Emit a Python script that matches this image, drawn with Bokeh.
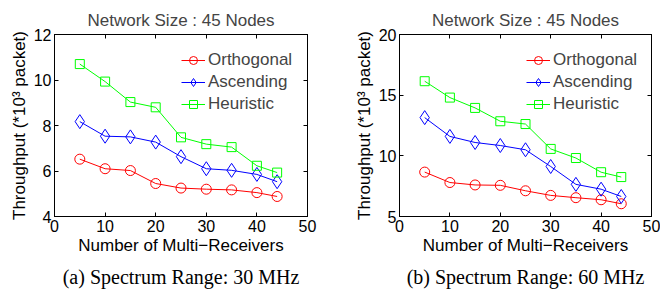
from bokeh.plotting import figure
from bokeh.models import (LinearAxis, Legend, LegendItem, Title, Range1d,
                          FixedTicker, CustomJSTickFormatter)
from bokeh.layouts import row
from bokeh.embed import file_html
from bokeh.resources import INLINE

# ---- data ----
receivers = [5, 10, 15, 20, 25, 30, 35, 40, 44]
x_ticks = [0, 10, 20, 30, 40, 50]

# (a) Spectrum range 30 MHz
orth_30 = [6.52, 6.10, 6.02, 5.45, 5.25, 5.20, 5.17, 5.05, 4.88]
asc_30 = [8.17, 7.53, 7.50, 7.27, 6.63, 6.10, 6.03, 5.85, 5.53]
heur_30 = [10.70, 9.93, 9.03, 8.80, 7.48, 7.18, 7.05, 6.23, 5.93]
y_ticks_30 = [4, 6, 8, 10, 12]

# (b) Spectrum range 60 MHz
orth_60 = [8.66, 7.80, 7.60, 7.57, 7.12, 6.74, 6.55, 6.38, 6.05]
asc_60 = [13.15, 11.60, 11.10, 10.85, 10.50, 9.12, 7.65, 7.25, 6.65]
heur_60 = [16.15, 14.80, 13.95, 12.85, 12.62, 10.57, 9.82, 8.65, 8.25]
y_ticks_60 = [5, 10, 15, 20]

series_names = ["Orthogonal", "Ascending", "Heuristic"]
series_colors = ["#ff0000", "#0000ff", "#00ff00"]
series_markers = ["circle", "diamond", "square"]
marker_sizes = [10, 14, 9]

title_text = "Network Size : 45 Nodes"
x_label = "Number of Multi\u2212Receivers"
y_label = "Throughput (*10\u00b3 packet)"

SANS = "Liberation Sans"
SERIF = "Liberation Serif"


def make(series, y_rng, y_ticks, caption, width, b_left, b_right):
    p = figure(width=width, height=297, output_backend="svg", toolbar_location=None,
               x_range=Range1d(0, 50), y_range=Range1d(*y_rng),
               min_border_left=b_left, min_border_right=b_right,
               min_border_top=34, min_border_bottom=81,
               x_axis_type=None, y_axis_type=None)
    p.title.text = title_text
    p.title.align = "center"
    p.title.text_font = SANS
    p.title.text_font_size = "17px"
    p.title.text_font_style = "normal"
    p.title.standoff = 10
    p.xgrid.visible = False
    p.ygrid.visible = False
    p.outline_line_color = "black"
    p.outline_line_width = 1
    p.background_fill_color = "white"
    p.border_fill_color = "white"

    blank = CustomJSTickFormatter(code="return ''")
    for loc, ticks, lab in [("below", x_ticks, x_label), ("left", y_ticks, y_label),
                            ("above", x_ticks, None), ("right", y_ticks, None)]:
        ax = LinearAxis(ticker=FixedTicker(ticks=ticks), major_tick_in=4, major_tick_out=0,
                        minor_tick_line_color=None, axis_line_color="black",
                        major_tick_line_color="black")
        if lab is None:
            ax.formatter = blank
            ax.major_label_text_font_size = "1px"
            ax.major_label_standoff = 0
        else:
            ax.axis_label = lab
            ax.axis_label_text_font = SANS
            ax.axis_label_text_font_size = "17px"
            ax.axis_label_text_font_style = "normal"
            ax.major_label_text_font = SANS
            ax.major_label_text_font_size = "16px"
            ax.major_label_text_color = "black"
            ax.axis_label_text_color = "black"
            ax.major_label_standoff = 3
            ax.axis_label_standoff = 2 if loc == "left" else 1
        p.add_layout(ax, loc)

    items = []
    for ys, name, col, mk, sz in zip(series, series_names, series_colors, series_markers, marker_sizes):
        ln = p.line(receivers, ys, line_color=col, line_width=1)
        sc = p.scatter(receivers, ys, marker=mk, size=sz, line_color=col, line_width=1,
                       fill_alpha=0)
        items.append(LegendItem(label=name, renderers=[ln, sc]))

    leg = Legend(items=items, location=(127, 102), border_line_alpha=0,
                 background_fill_alpha=0, padding=0, margin=0, spacing=2,
                 glyph_width=24, glyph_height=20, label_height=20, label_standoff=3,
                 label_text_font=SANS, label_text_font_size="17px")
    p.add_layout(leg, "center")

    cap = Title(text=caption, align="center", text_font=SERIF, text_font_size="20px",
                text_font_style="normal", text_color="black", standoff=12)
    p.add_layout(cap, "below")
    return p


p1 = make([orth_30, asc_30, heur_30], (4, 12), y_ticks_30,
          "(a) Spectrum Range: 30 MHz", 330, 54, 23)
p2 = make([orth_60, asc_60, heur_60], (5, 20), y_ticks_60,
          "(b) Spectrum Range: 60 MHz", 330, 69, 9)

layout = row(p1, p2)
open("out.html", "w").write(file_html(layout, INLINE))
